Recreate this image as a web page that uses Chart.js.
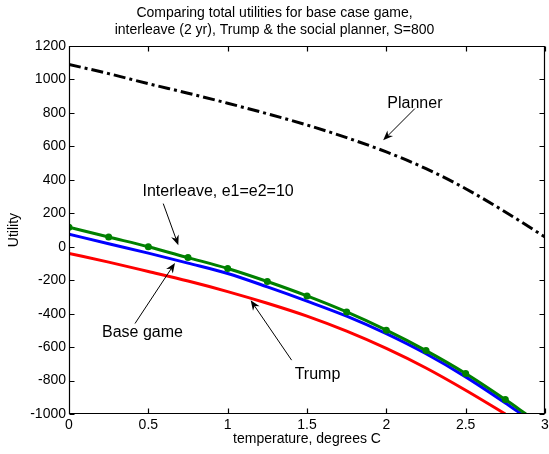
<!DOCTYPE html>
<html>
<head>
<meta charset="utf-8">
<script src="https://cdn.jsdelivr.net/npm/chart.js@4/dist/chart.umd.min.js"></script>
<style>
  html, body { margin: 0; padding: 0; background: #ffffff; }
  #wrap { width: 549px; height: 454px; }
</style>
</head>
<body>
<div id="wrap"><canvas id="c" width="549" height="454"></canvas></div>
<script>
// Temperature rise (degrees C) and total utility for each scenario
const interleaveTemp = [0, 0.25, 0.5, 0.75, 1, 1.25, 1.5, 1.75, 2, 2.25, 2.5, 2.75, 2.88];
const interleaveUtil = [117, 58, 0, -65, -130, -208, -294, -390, -499, -621, -758, -914, -1000];

const baseTemp = [0, 0.25, 0.5, 0.75, 1, 1.25, 1.5, 1.75, 2, 2.25, 2.5, 2.75, 2.85];
const baseUtil = [75, 18, -38, -98, -160, -240, -325, -415, -520, -640, -778, -934, -1000];

const trumpTemp = [0, 0.25, 0.5, 0.75, 1, 1.25, 1.5, 1.75, 2, 2.25, 2.5, 2.75];
const trumpUtil = [-40, -92, -148, -205, -268, -338, -415, -505, -608, -725, -858, -1000];

const plannerTemp = [0, 0.25, 0.5, 0.75, 1, 1.25, 1.5, 1.75, 2, 2.25, 2.5, 2.75, 3];
const plannerUtil = [1090, 1035, 975, 918, 858, 795, 728, 652, 567, 467, 347, 208, 58];

const xTicks = [0, 0.5, 1, 1.5, 2, 2.5, 3];
const yTicks = [-1000, -800, -600, -400, -200, 0, 200, 400, 600, 800, 1000, 1200];

const titleLines = ['Comparing total utilities for base case game,',
                    'interleave (2 yr), Trump & the social planner, S=800'];

// Text callouts: label position and arrow (tail -> head) in data units
const callouts = [
  { text: 'Planner', at: [2.18, 857], from: [2.18, 826], to: [1.98, 636] },
  { text: 'Interleave, e1=e2=10', at: [0.94, 327], from: [0.594, 258], to: [0.689, 9] },
  { text: 'Base game', at: [0.463, -515], from: [0.416, -459], to: [0.668, -97] },
  { text: 'Trump', at: [1.566, -762], from: [1.403, -678], to: [1.145, -320] }
];

const FONT = '"Liberation Sans", Arial, Helvetica, sans-serif';

function pts(xs, ys) { return xs.map((x, i) => ({ x: x, y: ys[i] })); }

// Box around the plot with inward ticks on all four sides, plus callouts
const framePlugin = {
  id: 'frame',
  afterDatasetsDraw(chart) {
    const ctx = chart.ctx;
    const a = chart.chartArea;
    const xs = chart.scales.x, ys = chart.scales.y;
    const L = Math.round(a.left) + 0.5, R = Math.round(a.right) - 0.5;
    const T = Math.round(a.top) + 0.5, B = Math.round(a.bottom) - 0.5;
    const tick = 5;
    ctx.save();
    ctx.strokeStyle = '#000';
    ctx.lineWidth = 1.2;
    ctx.beginPath();
    ctx.rect(L, T, R - L, B - T);
    xTicks.forEach(v => {
      const p = Math.round(xs.getPixelForValue(v)) + 0.5;
      ctx.moveTo(p, B); ctx.lineTo(p, B - tick);
      ctx.moveTo(p, T); ctx.lineTo(p, T + tick);
    });
    yTicks.forEach(v => {
      const p = Math.round(ys.getPixelForValue(v)) + 0.5;
      ctx.moveTo(L, p); ctx.lineTo(L + tick, p);
      ctx.moveTo(R, p); ctx.lineTo(R - tick, p);
    });
    ctx.stroke();

    // callouts
    ctx.font = '16px ' + FONT;
    ctx.fillStyle = '#000';
    ctx.textAlign = 'center';
    ctx.textBaseline = 'middle';
    callouts.forEach(c => {
      ctx.fillText(c.text, xs.getPixelForValue(c.at[0]), ys.getPixelForValue(c.at[1]));
      const x1 = xs.getPixelForValue(c.from[0]), y1 = ys.getPixelForValue(c.from[1]);
      const x2 = xs.getPixelForValue(c.to[0]), y2 = ys.getPixelForValue(c.to[1]);
      const ang = Math.atan2(y2 - y1, x2 - x1);
      const hl = 10, hw = 4;
      ctx.lineWidth = 1;
      ctx.beginPath();
      ctx.moveTo(x1, y1);
      ctx.lineTo(x2 - Math.cos(ang) * 4, y2 - Math.sin(ang) * 4);
      ctx.stroke();
      // swept-back filled head
      const bx = x2 - Math.cos(ang) * hl, by = y2 - Math.sin(ang) * hl;
      const nx = -Math.sin(ang), ny = Math.cos(ang);
      const mx = x2 - Math.cos(ang) * hl * 0.7, my = y2 - Math.sin(ang) * hl * 0.7;
      ctx.beginPath();
      ctx.moveTo(x2, y2);
      ctx.lineTo(bx + nx * hw, by + ny * hw);
      ctx.lineTo(mx, my);
      ctx.lineTo(bx - nx * hw, by - ny * hw);
      ctx.closePath();
      ctx.fill();
    });
    ctx.restore();
  }
};

new Chart(document.getElementById('c'), {
  type: 'line',
  data: {
    datasets: [
      {
        label: 'Interleave, e1=e2=10',
        data: pts(interleaveTemp, interleaveUtil),
        borderColor: '#008000',
        backgroundColor: '#008000',
        borderWidth: 3,
        pointRadius: interleaveTemp.map((t, i) => i === interleaveTemp.length - 1 ? 0 : 3.5),
        pointBorderWidth: 0,
        cubicInterpolationMode: 'monotone'
      },
      {
        label: 'Base game',
        data: pts(baseTemp, baseUtil),
        borderColor: '#0000ff',
        borderWidth: 3,
        pointRadius: 0,
        cubicInterpolationMode: 'monotone'
      },
      {
        label: 'Trump',
        data: pts(trumpTemp, trumpUtil),
        borderColor: '#ff0000',
        borderWidth: 3,
        pointRadius: 0,
        cubicInterpolationMode: 'monotone'
      },
      {
        label: 'Planner',
        data: pts(plannerTemp, plannerUtil),
        borderColor: '#000000',
        borderWidth: 3,
        borderDash: [12, 4, 3, 4],
        pointRadius: 0,
        cubicInterpolationMode: 'monotone'
      }
    ]
  },
  options: {
    responsive: false,
    animation: false,
    devicePixelRatio: 1,
    layout: { padding: { left: 0, right: 0, top: 0, bottom: 0 } },
    plugins: {
      legend: { display: false },
      tooltip: { enabled: false },
      title: {
        display: true,
        text: titleLines,
        color: '#000',
        font: { family: FONT, size: 14, weight: 'normal', lineHeight: 1.18 },
        padding: { top: 5, bottom: 8 }
      }
    },
    scales: {
      x: {
        type: 'linear',
        min: 0, max: 3,
        grid: { display: false, drawTicks: false },
        border: { display: false },
        afterBuildTicks(s) { s.ticks = xTicks.map(v => ({ value: v })); },
        afterFit(s) { s.height = 40; s.paddingRight = 4; s.paddingLeft = 0; },
        ticks: {
          color: '#000', padding: 3,
          font: { family: FONT, size: 14 },
          maxRotation: 0,
          callback: v => String(v)
        },
        title: {
          display: true, text: 'temperature, degrees C', color: '#000',
          font: { family: FONT, size: 14 },
          padding: { top: 0, bottom: 6 }
        }
      },
      y: {
        type: 'linear',
        min: -1000, max: 1200,
        grid: { display: false, drawTicks: false },
        border: { display: false },
        afterBuildTicks(s) { s.ticks = yTicks.map(v => ({ value: v })); },
        afterFit(s) { s.width = 69; },
        ticks: {
          color: '#000', padding: 3,
          font: { family: FONT, size: 14 },
          callback: v => String(v)
        },
        title: {
          display: true, text: 'Utility', color: '#000',
          font: { family: FONT, size: 14 },
          padding: { top: 6, bottom: 0 }
        }
      }
    }
  },
  plugins: [framePlugin]
});
</script>
</body>
</html>
